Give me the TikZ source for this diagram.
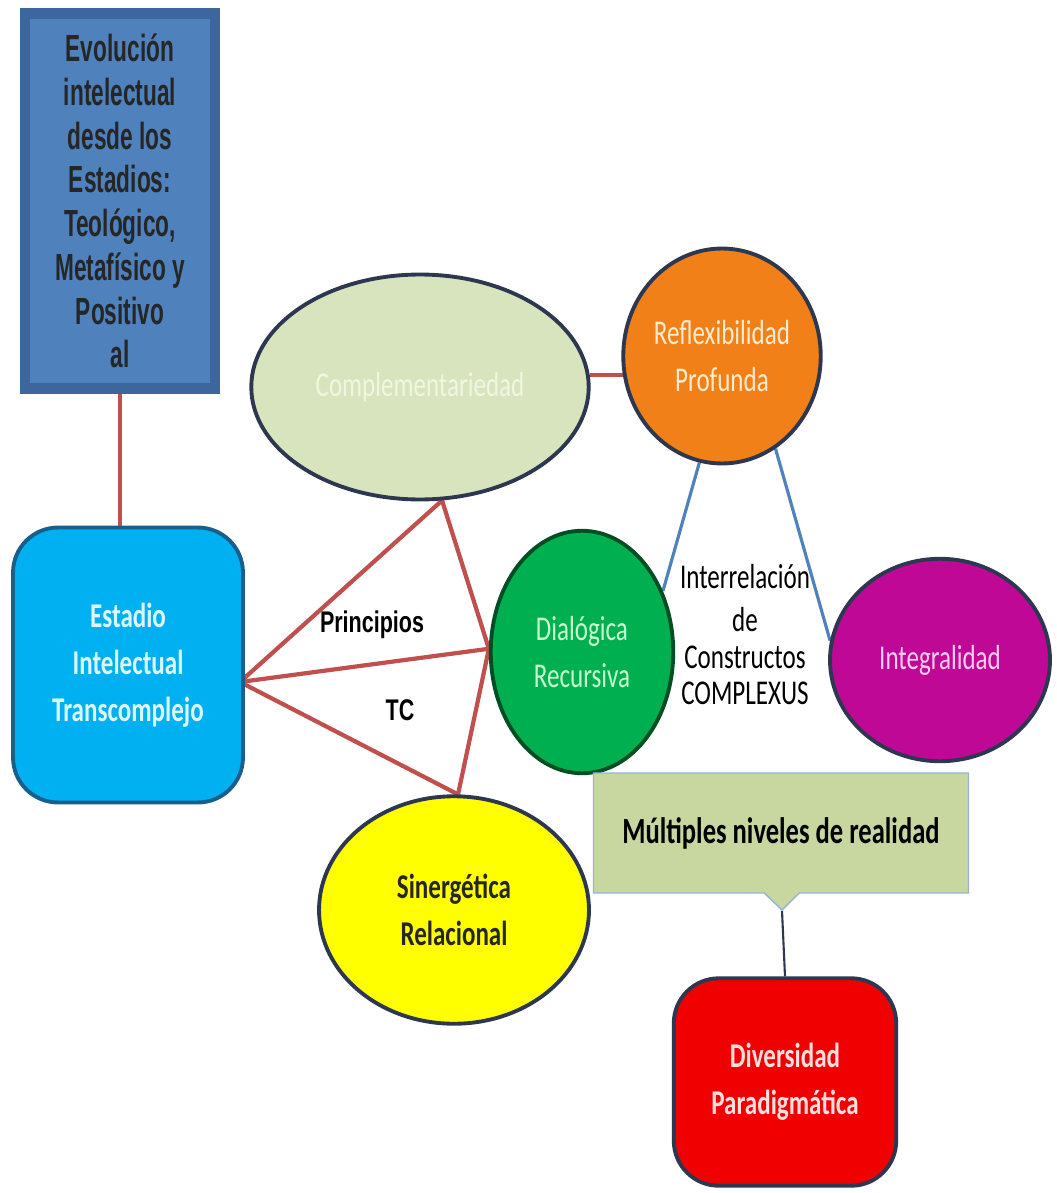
\documentclass[tikz,border=0pt]{standalone}
\usepackage{fontspec}
\usetikzlibrary{shapes.geometric,shapes.callouts,backgrounds}
\newfontfamily\calfont[FakeStretch=0.72]{Carlito}
\newfontfamily\narfont[FakeStretch=0.6]{Liberation Sans}
\newfontfamily\arfont[FakeStretch=0.72]{Liberation Sans}
\definecolor{linkred}{RGB}{192,80,77}
\definecolor{linkblue}{RGB}{79,129,189}
\definecolor{boxblue}{RGB}{79,129,189}
\definecolor{boxblueedge}{RGB}{62,102,158}
\definecolor{cyanfill}{RGB}{0,176,240}
\definecolor{cyanedge}{RGB}{25,95,140}
\definecolor{olivefill}{RGB}{215,228,189}
\definecolor{orangefill}{RGB}{242,128,24}
\definecolor{greenfill}{RGB}{0,176,80}
\definecolor{magfill}{RGB}{192,8,150}
\definecolor{yelfill}{RGB}{255,255,0}
\definecolor{calfill}{RGB}{200,215,160}
\definecolor{redfill}{RGB}{240,0,0}
\definecolor{darkedge}{RGB}{45,55,80}
\begin{document}
\begin{tikzpicture}[x=0.02cm,y=-0.02cm,
  redlink/.style={draw=linkred,line width=2.4pt},
  bluelink/.style={draw=linkblue,line width=1.8pt},
  blob/.style={ellipse,draw=darkedge,line width=2.2pt,inner sep=0pt,
    font=\calfont\fontsize{19.8}{26.6}\selectfont,align=center},
  barrel/.style={rectangle,rounded corners=0.9cm,draw=darkedge,line width=2.2pt,
    font=\calfont\bfseries\fontsize{19.8}{26.6}\selectfont,align=center},
  plain/.style={font=\arfont\bfseries\fontsize{17}{20}\selectfont}]
\useasboundingbox (0,0) rectangle (1057,1193);
\node[rectangle,fill=boxblue,draw=boxblueedge,line width=6pt,minimum width=3.8cm,minimum height=7.5cm,
      align=center,font=\narfont\bfseries\fontsize{21.5}{24.9}\selectfont,text=black!85]
      (evol) at (120,201) {Evolución\\intelectual\\desde los\\Estadios:\\Teológico,\\Metafísico y\\Positivo\\al};
\node[barrel,fill=cyanfill,draw=cyanedge,minimum width=4.6cm,minimum height=5.5cm,
      text={rgb,255:red,220;green,248;blue,255}]
      (estadio) at (128,665) {Estadio\\Intelectual\\Transcomplejo};
\node[blob,fill=olivefill,minimum width=6.75cm,minimum height=4.5cm,
      text={rgb,255:red,242;green,246;blue,225}]
      (compl) at (420,387) {Complementariedad};
\node[blob,fill=orangefill,minimum width=3.95cm,minimum height=4.3cm,
      text={rgb,255:red,255;green,236;blue,205}]
      (reflex) at (722,356) {Reflexibilidad\\Profunda};
\node[blob,fill=greenfill,draw=greenfill!45!black,minimum width=3.65cm,minimum height=4.85cm,
      text={rgb,255:red,200;green,255;blue,205}]
      (dialog) at (582,652) {Dialógica\\Recursiva};
\node[blob,fill=magfill,minimum width=4.4cm,minimum height=4.05cm,
      text={rgb,255:red,255;green,205;blue,240}]
      (integ) at (940,660) {Integralidad};
\node[blob,fill=yelfill,minimum width=5.4cm,minimum height=4.55cm,
      font=\calfont\bfseries\fontsize{19.8}{26.6}\selectfont,text=black!85]
      (sinerg) at (454,910) {Sinergética\\Relacional};
\node[rectangle callout,fill=calfill,draw=linkblue!60,line width=0.8pt,minimum width=7.5cm,minimum height=2.4cm,
      callout absolute pointer={(782,910)},callout pointer width=0.7cm,
      font=\calfont\bfseries\fontsize{21}{26}\selectfont,text=black]
      (niveles) at (781,833) {Múltiples niveles de realidad};
\node[barrel,fill=redfill,minimum width=4.45cm,minimum height=4.15cm,
      text={rgb,255:red,255;green,222;blue,222}]
      (divers) at (785,1082) {Diversidad\\Paradigmática};
\node[plain] (princ) at (372,625) {Principios};
\node[plain] (tc) at (400,710) {TC};
\node[align=center,font=\calfont\fontsize{19.8}{21}\selectfont] (inter) at (745,635)
      {Interrelación\\[3pt]de\\Constructos\\COMPLEXUS};
\coordinate (hub) at (240,682);
\begin{pgfonlayer}{background}
\draw[redlink] (evol.south) -- (evol.south |- estadio.north);
\draw[redlink] (hub) -- (compl.-79);
\draw[redlink] (hub) -- (dialog.178);
\draw[redlink] (hub) -- (sinerg.88);
\draw[redlink] (compl.-79) -- (dialog.178);
\draw[redlink] (dialog.178) -- (sinerg.88);
\draw[redlink] (compl.4) -- (compl.4 -| reflex.center);
\draw[bluelink] (reflex.-102) -- (dialog.37);
\draw[bluelink] (reflex.-60) -- (integ.170);
\draw[draw=darkedge,line width=1.2pt] (niveles.pointer) -- (divers.north);
\end{pgfonlayer}
\end{tikzpicture}
\end{document}
